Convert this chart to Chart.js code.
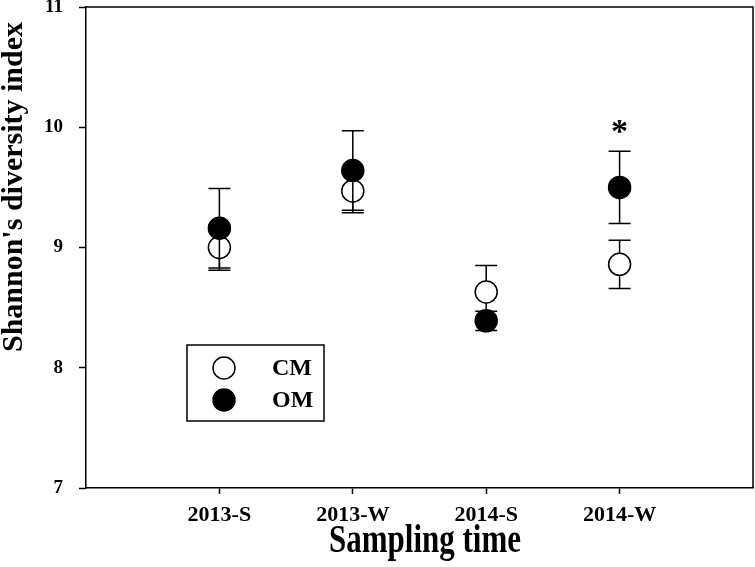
<!DOCTYPE html>
<html lang="en">
<head>
<meta charset="UTF-8">
<title>Shannon's diversity index</title>
<script src="https://cdn.jsdelivr.net/npm/chart.js"></script>
<style>
  body { margin: 0; background: #fff; }
  #wrap { width: 755px; height: 567px; position: relative; }
</style>
</head>
<body>
<div id="wrap"><canvas id="chart"></canvas></div>
<script>
  // values
  const times = ["2013-S", "2013-W", "2014-S", "2014-W"];
  const cmMean = [9.00, 9.47, 8.63, 8.86];
  const cmErr = [0.19, 0.18, 0.22, 0.20];
  const omMean = [9.16, 9.64, 8.39, 9.50];
  const omErr = [0.33, 0.33, 0.08, 0.30];
  const marks = ["", "", "", "*"];
  const seriesNames = ["CM", "OM"];

  const serif = "'Liberation Serif', 'Times New Roman', serif";

  // error bars are drawn just before each dataset's points
  const errorBars = {
    id: "errorBars",
    beforeDatasetDraw(chart, args) {
      const ds = chart.data.datasets[args.index];
      const xs = chart.scales.x, ys = chart.scales.y, ctx = chart.ctx;
      ctx.save();
      ctx.strokeStyle = "#000";
      ctx.lineWidth = 1.5;
      ds.data.forEach((p, i) => {
        const px = xs.getPixelForValue(p.x);
        const top = ys.getPixelForValue(p.y + ds.err[i]);
        const bot = ys.getPixelForValue(p.y - ds.err[i]);
        ctx.beginPath();
        ctx.moveTo(px, top); ctx.lineTo(px, bot);
        ctx.moveTo(px - 11, top); ctx.lineTo(px + 11, top);
        ctx.moveTo(px - 11, bot); ctx.lineTo(px + 11, bot);
        ctx.stroke();
      });
      ctx.restore();
    }
  };

  const extras = {
    id: "extras",
    afterDraw(chart) {
      const ctx = chart.ctx, a = chart.chartArea;
      const xs = chart.scales.x, ys = chart.scales.y;
      ctx.save();
      // top and right frame lines
      ctx.strokeStyle = "#000";
      ctx.lineWidth = 1.5;
      ctx.beginPath();
      ctx.moveTo(a.left, a.top); ctx.lineTo(a.right, a.top); ctx.lineTo(a.right, a.bottom);
      ctx.stroke();

      // significance marks
      ctx.fillStyle = "#000";
      ctx.font = "bold 34px " + serif;
      ctx.textAlign = "center";
      ctx.textBaseline = "alphabetic";
      marks.forEach((m, i) => {
        if (!m) return;
        const px = xs.getPixelForValue(i + 1);
        const py = ys.getPixelForValue(omMean[i] + omErr[i]);
        ctx.fillText(m, px, py - 9);
      });

      // legend box
      ctx.lineWidth = 1.5;
      ctx.strokeRect(187, 345, 137, 76);
      ctx.font = "bold 24px " + serif;
      ctx.textAlign = "left";
      ctx.textBaseline = "middle";
      seriesNames.forEach((name, i) => {
        const cy = 368 + i * 32;
        ctx.beginPath();
        ctx.arc(224, cy, 11, 0, Math.PI * 2);
        ctx.fillStyle = i === 0 ? "#fff" : "#000";
        ctx.fill();
        ctx.stroke();
        ctx.fillStyle = "#000";
        ctx.fillText(name, 272, cy + 1);
      });

      // y axis title, sits above the axis centre in the original
      ctx.save();
      ctx.translate(14, 187);
      ctx.rotate(-Math.PI / 2);
      ctx.textAlign = "center";
      ctx.textBaseline = "middle";
      ctx.font = "bold 30px " + serif;
      ctx.fillText("Shannon's diversity index", 0, 0);
      ctx.restore();

      // x axis title, tall and condensed like the original
      ctx.save();
      ctx.font = "bold 40px " + serif;
      const label = "Sampling time";
      const sx = 192 / ctx.measureText(label).width;
      ctx.translate(425, 552);
      ctx.scale(sx, 1);
      ctx.textAlign = "center";
      ctx.textBaseline = "alphabetic";
      ctx.fillText(label, 0, 0);
      ctx.restore();

      ctx.restore();
    }
  };

  const noPad = s => { s.paddingTop = 0; s.paddingBottom = 0; s.paddingLeft = 0; s.paddingRight = 0; };

  new Chart(document.getElementById("chart"), {
    type: "scatter",
    data: {
      datasets: [
        {
          label: seriesNames[0],
          data: cmMean.map((v, i) => ({ x: i + 1, y: v })),
          err: cmErr,
          order: 1,
          pointRadius: 11,
          pointBorderWidth: 1.5,
          pointBackgroundColor: "#fff",
          pointBorderColor: "#000"
        },
        {
          label: seriesNames[1],
          data: omMean.map((v, i) => ({ x: i + 1, y: v })),
          err: omErr,
          order: 0,
          pointRadius: 11,
          pointBorderWidth: 1.5,
          pointBackgroundColor: "#000",
          pointBorderColor: "#000"
        }
      ]
    },
    options: {
      responsive: true,
      maintainAspectRatio: false,
      animation: false,
      devicePixelRatio: 1,
      layout: { autoPadding: false, padding: { top: 7, right: 2, left: 0, bottom: 0 } },
      plugins: { legend: { display: false }, tooltip: { enabled: false } },
      scales: {
        x: {
          type: "linear",
          min: 0,
          max: 5,
          afterBuildTicks: s => { s.ticks = times.map((t, i) => ({ value: i + 1 })); },
          afterFit: s => { s.height = 79; noPad(s); },
          border: { display: true, color: "#000", width: 1.5 },
          grid: { drawOnChartArea: false, drawTicks: true, tickLength: 6, color: "#000", tickWidth: 1.5 },
          ticks: {
            callback: v => times[v - 1],
            color: "#000",
            padding: 8,
            maxRotation: 0,
            font: { family: serif, size: 22, weight: "bold" }
          }
        },
        y: {
          min: 7,
          max: 11,
          afterFit: s => { s.width = 86; noPad(s); },
          border: { display: true, color: "#000", width: 1.5 },
          grid: { drawOnChartArea: false, drawTicks: true, tickLength: 7, color: "#000", tickWidth: 1.5 },
          ticks: {
            stepSize: 1,
            color: "#000",
            padding: 16,
            font: { family: serif, size: 19, weight: "bold" }
          }
        }
      }
    },
    plugins: [errorBars, extras]
  });
</script>
</body>
</html>
